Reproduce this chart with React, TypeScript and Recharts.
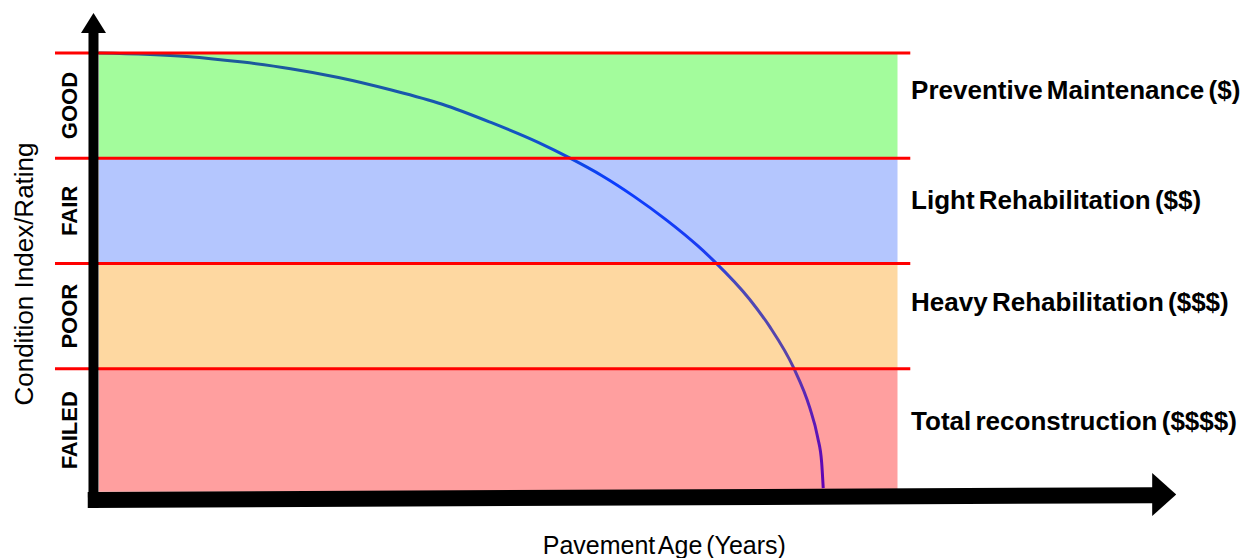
import React from 'react';
import { LineChart, Line, XAxis, YAxis, ReferenceArea, ReferenceLine, ReferenceDot } from 'recharts';

// Deterioration curve (pavement age vs condition index)
const ages = [0, 11, 18, 24, 30, 36.5, 43, 49, 55, 59, 63, 67, 71, 75, 77, 81.5, 84, 87, 89, 90, 90.5, 90.7];
const condition = [100, 99.2, 97.9, 96.4, 94.4, 91.6, 88.3, 84.2, 79.6, 76.0, 72.0, 67.3, 62.0, 56.0, 52.6, 43.8, 37.6, 28.2, 19.2, 12.4, 6.7, 0.8];

// Condition bands
const ratings = ['FAILED', 'POOR', 'FAIR', 'GOOD'];
const bandLow = [0, 28, 52, 76];
const bandHigh = [28, 52, 76, 100];
const bandColors = ['#FF9F9F', '#FED8A1', '#B4C6FE', '#A3FC9C'];
const boundaries = [28, 52, 76, 100];

// Treatments
const treatments = ['Total reconstruction ($$$$)', 'Heavy Rehabilitation ($$$)', 'Light Rehabilitation ($$)', 'Preventive Maintenance ($)'];
const treatmentY = [16.1, 43.2, 66.5, 91.5];

const xTitle = 'Pavement Age (Years)';
const yTitle = 'Condition Index/Rating';

const data = ages.map((a, i) => ({ age: a, condition: condition[i] }));

const FONT = '"Liberation Sans", Arial, sans-serif';

export default function App() {
  return (
    <div style={{ width: 1232, height: 550 }}>
      <LineChart width={1232} height={550} data={data} margin={{ top: 1, right: 55, bottom: 40, left: 43 }}>
        <defs>
          <linearGradient id="curveGrad" x1="0" y1="0" x2="0" y2="1">
            <stop offset="0" stopColor="#1e5a96" />
            <stop offset="0.18" stopColor="#1456c0" />
            <stop offset="0.3" stopColor="#0a3cff" />
            <stop offset="0.47" stopColor="#1c3cf0" />
            <stop offset="0.53" stopColor="#4a48b8" />
            <stop offset="0.7" stopColor="#5a44a8" />
            <stop offset="0.8" stopColor="#5a22b8" />
            <stop offset="1" stopColor="#6000b4" />
          </linearGradient>
        </defs>
        <XAxis type="number" dataKey="age" domain={[-6, 136]} allowDataOverflow hide />
        <YAxis type="number" domain={[-6, 110]} allowDataOverflow hide />
        {ratings.map((r, i) => (
          <ReferenceArea key={r} x1={0} x2={100} y1={bandLow[i]} y2={bandHigh[i]} fill={bandColors[i]} fillOpacity={1} stroke="none" />
        ))}
        <Line type="monotone" dataKey="condition" stroke="url(#curveGrad)" strokeWidth={3} dot={false} isAnimationActive={false} />
        {boundaries.map((b) => (
          <ReferenceLine key={b} segment={[{ x: -5.5, y: b }, { x: 101.6, y: b }]} stroke="#ff0000" strokeWidth={3} />
        ))}
        {/* axes as arrows */}
        <ReferenceLine segment={[{ x: -0.68, y: -3.7 }, { x: -0.68, y: 105 }]} stroke="#000" strokeWidth={10} />
        <ReferenceLine segment={[{ x: -1.4, y: -1.9 }, { x: 132, y: -0.8 }]} stroke="#000" strokeWidth={16} />
        <ReferenceDot x={-0.68} y={109.1} r={1} ifOverflow="visible"
          shape={(p: any) => <polygon points={`${p.cx},${p.cy} ${p.cx - 12.5},${p.cy + 20} ${p.cx + 12.5},${p.cy + 20}`} fill="#000" />} />
        <ReferenceDot x={134.9} y={-0.64} r={1} ifOverflow="visible"
          shape={(p: any) => <polygon points={`${p.cx},${p.cy} ${p.cx - 24},${p.cy - 21.5} ${p.cx - 24},${p.cy + 21.5}`} fill="#000" />} />
        {ratings.map((r, i) => (
          <ReferenceDot key={'lab' + r} x={-3.7} y={(bandLow[i] + bandHigh[i]) / 2} r={1} ifOverflow="visible"
            shape={(p: any) => (
              <text x={p.cx} y={p.cy} transform={`rotate(-90 ${p.cx} ${p.cy})`} textAnchor="middle" dominantBaseline="central"
                fontFamily={FONT} fontWeight="bold" fontSize={22} fill="#000">{r}</text>
            )} />
        ))}
        {treatments.map((t, i) => (
          <ReferenceDot key={t} x={101.7} y={treatmentY[i]} r={1} ifOverflow="visible"
            shape={(p: any) => (
              <text x={p.cx} y={p.cy} textAnchor="start" dominantBaseline="central"
                fontFamily={FONT} fontWeight="bold" fontSize={26} wordSpacing={-3} fill="#000">{t}</text>
            )} />
        ))}
        <ReferenceDot x={-9.4} y={49.6} r={1} ifOverflow="visible"
          shape={(p: any) => (
            <text x={p.cx} y={p.cy} transform={`rotate(-90 ${p.cx} ${p.cy})`} textAnchor="middle" dominantBaseline="central"
              fontFamily={FONT} fontSize={26} fill="#000">{yTitle}</text>
          )} />
        <ReferenceDot x={70.8} y={-12.2} r={1} ifOverflow="visible"
          shape={(p: any) => (
            <text x={p.cx} y={p.cy} textAnchor="middle" dominantBaseline="central"
              fontFamily={FONT} fontSize={25} wordSpacing={-3} fill="#000">{xTitle}</text>
          )} />
      </LineChart>
    </div>
  );
}
